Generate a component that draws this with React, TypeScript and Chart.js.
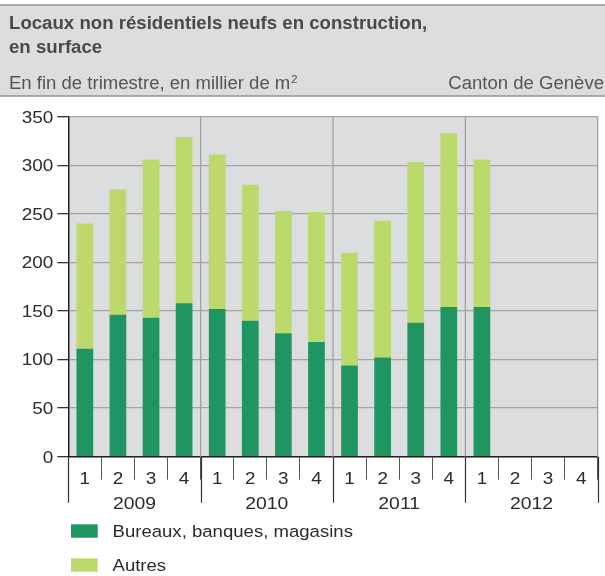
import React, { useEffect, useRef } from 'react';
import { Chart, registerables } from 'chart.js';

Chart.register(...registerables);

const TITLE_LINES = ['Locaux non résidentiels neufs en construction,', 'en surface'];
const SUBTITLE = 'En fin de trimestre, en millier de m';
const SUBTITLE_SUP = '2';
const SOURCE = 'Canton de Genève';

const YEARS = ['2009', '2010', '2011', '2012'];
const QUARTERS = ['1', '2', '3', '4'];
const CATEGORIES = YEARS.flatMap((y) => QUARTERS.map((q) => `${y}-${q}`));

const SERIES_NAMES = ['Bureaux, banques, magasins', 'Autres'];
const BUREAUX = [111, 146, 143, 158, 152, 140, 127, 118, 94, 102, 138, 154, 154, null, null, null];
const AUTRES = [129, 129, 163, 171, 159, 140, 126, 134, 116, 141, 165, 179, 152, null, null, null];

const Y_TICKS_STEP = 50;
const Y_MAX = 350;

const DARK_GREEN = '#1f9661';
const LIGHT_GREEN = '#bcd96c';
const PANEL_BG = '#dcdddf';
const FONT = '"Liberation Sans", Arial, Helvetica, sans-serif';

function stretchText(ctx: CanvasRenderingContext2D, text: string, x: number, y: number, align: CanvasTextAlign, sx: number) {
  ctx.save();
  ctx.translate(x, y);
  ctx.scale(sx, 1);
  ctx.textAlign = align;
  ctx.fillText(text, 0, 0);
  ctx.restore();
}

const decorPlugin = {
  id: 'decor',
  beforeDraw(chart: any) {
    const { ctx, chartArea: a, width } = chart;
    ctx.save();
    // header band
    ctx.fillStyle = PANEL_BG;
    ctx.fillRect(0, 5, width, 91);
    ctx.strokeStyle = '#929292';
    ctx.lineWidth = 1.5;
    ctx.beginPath();
    ctx.moveTo(0, 5);
    ctx.lineTo(width, 5);
    ctx.moveTo(0, 96);
    ctx.lineTo(width, 96);
    ctx.stroke();

    ctx.textBaseline = 'alphabetic';
    ctx.fillStyle = '#4a4a4a';
    ctx.font = `bold 18px ${FONT}`;
    stretchText(ctx, TITLE_LINES[0], 9, 29.3, 'left', 1.035);
    stretchText(ctx, TITLE_LINES[1], 9, 53.3, 'left', 1.035);

    ctx.fillStyle = '#555555';
    ctx.font = `18px ${FONT}`;
    stretchText(ctx, SUBTITLE, 9, 89.3, 'left', 1.03);
    const w = ctx.measureText(SUBTITLE).width * 1.03;
    ctx.font = `11.5px ${FONT}`;
    stretchText(ctx, SUBTITLE_SUP, 9 + w + 0.6, 83.3, 'left', 1.03);
    ctx.font = `18px ${FONT}`;
    stretchText(ctx, SOURCE, 604, 89.3, 'right', 1.03);

    // plot background
    ctx.fillStyle = PANEL_BG;
    ctx.fillRect(a.left, a.top, a.right - a.left, a.bottom - a.top);
    ctx.restore();
  },
  beforeDatasetsDraw(chart: any) {
    const { ctx, chartArea: a, scales } = chart;
    const x = scales.x;
    const cw = x.getPixelForValue(1) - x.getPixelForValue(0);
    ctx.save();
    ctx.strokeStyle = '#a2a2a4';
    ctx.lineWidth = 1.3;
    ctx.beginPath();
    for (let k = 1; k <= YEARS.length; k++) {
      const bx = x.getPixelForValue(k * QUARTERS.length) - cw / 2;
      ctx.moveTo(bx, a.top);
      ctx.lineTo(bx, a.bottom);
    }
    ctx.stroke();
    ctx.restore();
  },
  afterDraw(chart: any) {
    const { ctx, chartArea: a, scales, data } = chart;
    const x = scales.x;
    const y = scales.y;
    const cw = x.getPixelForValue(1) - x.getPixelForValue(0);
    ctx.save();
    // long year separators below axis
    ctx.strokeStyle = '#333333';
    ctx.lineWidth = 1.2;
    ctx.beginPath();
    for (let k = 0; k <= YEARS.length; k++) {
      const bx = Math.round(x.getPixelForValue(k * QUARTERS.length) - cw / 2) + 0.5;
      ctx.moveTo(bx, a.bottom);
      ctx.lineTo(bx, a.bottom + 46);
    }
    ctx.stroke();

    ctx.fillStyle = '#2b2b2b';
    ctx.textBaseline = 'alphabetic';
    // y labels
    ctx.font = `16.3px ${FONT}`;
    y.ticks.forEach((t: any) => {
      const py = y.getPixelForValue(t.value);
      stretchText(ctx, String(t.value), 53.3, py + 5.9, 'right', 1.16);
    });
    // quarter labels
    (data.labels as string[]).forEach((lab: string, i: number) => {
      const px = x.getPixelForValue(i);
      stretchText(ctx, lab.split('-')[1], px, a.bottom + 27.6, 'center', 1.16);
    });
    // year labels
    ctx.font = `17px ${FONT}`;
    YEARS.forEach((yr, k) => {
      const px = (x.getPixelForValue(k * 4 + 1) + x.getPixelForValue(k * 4 + 2)) / 2;
      stretchText(ctx, yr, px, a.bottom + 52.3, 'center', 1.14);
    });
    // legend
    ctx.font = `16.3px ${FONT}`;
    data.datasets.forEach((ds: any, i: number) => {
      const top = 524.3 + i * 34;
      ctx.fillStyle = ds.backgroundColor;
      ctx.fillRect(71, top, 26.7, 13.4);
      ctx.fillStyle = '#2b2b2b';
      stretchText(ctx, ds.label, 112.5, top + 12.4, 'left', 1.14);
    });
    ctx.restore();
  },
};

export default function App() {
  const ref = useRef<HTMLCanvasElement | null>(null);
  useEffect(() => {
    document.body.style.margin = '0';
    const canvas = ref.current;
    if (!canvas) return;
    const chart = new Chart(canvas, {
      type: 'bar',
      data: {
        labels: CATEGORIES,
        datasets: [
          {
            label: SERIES_NAMES[0],
            data: BUREAUX,
            backgroundColor: DARK_GREEN,
            barPercentage: 0.505,
            categoryPercentage: 1,
          },
          {
            label: SERIES_NAMES[1],
            data: AUTRES,
            backgroundColor: LIGHT_GREEN,
            barPercentage: 0.505,
            categoryPercentage: 1,
          },
        ],
      },
      options: {
        responsive: false,
        animation: false,
        devicePixelRatio: 1,
        layout: { padding: { top: 116.7, right: 7.3, left: 0, bottom: 0 } },
        plugins: {
          legend: { display: false },
          tooltip: { enabled: false },
          title: { display: false },
        },
        scales: {
          x: {
            stacked: true,
            offset: true,
            ticks: { display: false },
            grid: {
              display: true,
              offset: true,
              drawOnChartArea: false,
              drawTicks: true,
              tickLength: 23,
              color: '#555555',
              lineWidth: 1,
            },
            border: { display: true, color: '#222222', width: 1.5 },
            afterFit: (s: any) => {
              s.height = 576 - 456.7;
            },
          },
          y: {
            stacked: true,
            min: 0,
            max: Y_MAX,
            ticks: { display: false, stepSize: Y_TICKS_STEP },
            grid: {
              color: '#a4a4a6',
              lineWidth: 1.3,
              drawTicks: true,
              tickLength: 11,
              tickColor: '#333333',
              tickWidth: 1.3,
            },
            border: { display: true, color: '#222222', width: 1.5 },
            afterFit: (s: any) => {
              s.width = 68.3;
            },
          },
        },
      },
      plugins: [decorPlugin],
    } as any);
    return () => chart.destroy();
  }, []);
  return <canvas ref={ref} width={605} height={576} style={{ display: 'block', width: 605, height: 576 }} />;
}
